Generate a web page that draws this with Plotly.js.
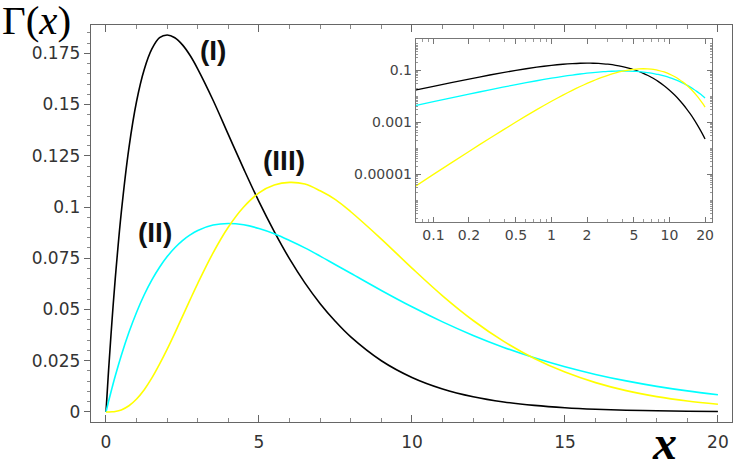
<!DOCTYPE html>
<html>
<head>
<meta charset="utf-8">
<script src="https://cdn.plot.ly/plotly-3.0.1.min.js"></script>
<style>
  html, body { margin: 0; padding: 0; background: #fff; }
  #chart { width: 733px; height: 461px; }
</style>
</head>
<body>
<div id="chart"></div>
<script>
// sample positions
const xs = [0, 0.07, 0.1, 0.2, 0.3, 0.5, 0.75, 1, 1.25, 1.5, 1.75, 2, 2.25, 2.5, 2.75, 3, 3.5, 4, 4.5, 5,
            5.5, 6, 6.5, 7, 7.5, 8, 9, 10, 11, 12, 13, 14, 15, 16, 17, 18, 19, 20];

// curve (I), black
const gammaI = [0, 0.01690, 0.02378, 0.04524, 0.06455, 0.09735, 0.1289, 0.1516, 0.1671, 0.1771,
                0.1826, 0.1839, 0.1826, 0.1791, 0.1739, 0.1673, 0.1521, 0.1353, 0.1186, 0.1026,
                0.08800, 0.07468, 0.06300, 0.05285, 0.04414, 0.03663, 0.02500, 0.01685, 0.01124,
                0.007436, 0.004886, 0.003192, 0.002074, 0.001342, 0.0008648, 0.0005553,
                0.0003556, 0.000227];

// curve (II), cyan
const gammaII = [0, 0.004299, 0.006096, 0.01189, 0.01740, 0.02758, 0.03886, 0.04868, 0.05720,
                 0.06443, 0.07061, 0.07582, 0.08015, 0.08364, 0.08641, 0.08857, 0.09119,
                 0.09197, 0.09131, 0.08953, 0.08694, 0.08367, 0.08006, 0.07603, 0.07182,
                 0.06767, 0.05929, 0.05130, 0.04395, 0.03734, 0.03150, 0.02642, 0.02205,
                 0.01832, 0.01516, 0.01250, 0.01027, 0.008422];

// curve (III), yellow
const gammaIII = [0, 0.00000345, 0.000009909, 0.00007540, 0.0002421, 0.001014, 0.003020,
                  0.006318, 0.01087, 0.01661, 0.02333, 0.03066, 0.03850, 0.04663, 0.05479,
                  0.06276, 0.07761, 0.09022, 0.1000, 0.1069, 0.1107, 0.1120, 0.1112, 0.1079,
                  0.1036, 0.09769, 0.08436, 0.07019, 0.05666, 0.04462, 0.03441, 0.02607,
                  0.01944, 0.01431, 0.01041, 0.007497, 0.005348, 0.003783];

const yTickVals = [0, 0.025, 0.05, 0.075, 0.1, 0.125, 0.15, 0.175];
const yTickText = ['0', '0.025', '0.05', '0.075', '0.1', '0.125', '0.15', '0.175'];
const xTickVals = [0, 5, 10, 15, 20];

const insetXVals = [0.1, 0.2, 0.5, 1, 2, 5, 10, 20];
const insetXText = ['0.1', '0.2', '0.5', '1', '2', '5', '10', '20'];
const insetYVals = [0.1, 0.001, 0.00001];
const insetYText = ['0.1', '0.001', '0.00001'];

const colors = ['#000000', '#00ffff', '#ffff00'];
const series = [gammaI, gammaII, gammaIII];

// log minor ticks
const minorX = [];
const minorY = [];
[0.01, 0.1, 1, 10].forEach(d => {
    for (let k = 2; k <= 9; k++) minorX.push(k * d);
});
for (let e = -7; e <= 0; e++) {
    for (let k = 1; k <= 9; k++) minorY.push(k * Math.pow(10, e));
}

const traces = [];
series.forEach((ys, i) => {
    traces.push({
        x: xs, y: ys, type: 'scatter', mode: 'lines',
        line: { color: colors[i], width: 1.6, shape: 'spline', smoothing: 1 },
        xaxis: 'x', yaxis: 'y', hoverinfo: 'skip'
    });
});
series.forEach((ys, i) => {
    traces.push({
        x: xs.slice(1), y: ys.slice(1), type: 'scatter', mode: 'lines',
        line: { color: colors[i], width: 1.3, shape: 'spline', smoothing: 0.6 },
        xaxis: 'x2', yaxis: 'y2', hoverinfo: 'skip'
    });
});

const tickFont = { family: 'DejaVu Sans, sans-serif', size: 17, color: '#333' };
const insetFont = { family: 'DejaVu Sans, sans-serif', size: 14, color: '#444' };
const labelFont = { family: 'Liberation Sans Narrow, Liberation Sans, Arial, sans-serif',
                    size: 28, color: '#111', weight: 'bold' };

const layout = {
    width: 733, height: 461,
    margin: { l: 91, r: 1, t: 25, b: 39 },
    paper_bgcolor: '#fff', plot_bgcolor: '#fff',
    showlegend: false, hovermode: false,
    xaxis: {
        domain: [0, 1], range: [-0.49, 20.46],
        tickmode: 'array', tickvals: xTickVals,
        ticks: 'inside', ticklen: 7, tickcolor: '#666',
        minor: { dtick: 1, tick0: 0, ticks: 'inside', ticklen: 4, tickcolor: '#888' },
        showline: true, linecolor: '#666', linewidth: 1.3, mirror: 'allticks',
        showgrid: false, zeroline: false, tickfont: tickFont,
        ticklabelstandoff: 4
    },
    yaxis: {
        domain: [0, 1], range: [-0.0049, 0.1888],
        tickmode: 'array', tickvals: yTickVals, ticktext: yTickText,
        ticks: 'outside', ticklen: 6, tickcolor: '#666',
        minor: { dtick: 0.005, tick0: 0, ticks: 'outside', ticklen: 3, tickcolor: '#888' },
        showline: true, linecolor: '#666', linewidth: 1.3, mirror: 'allticks',
        showgrid: false, zeroline: false, tickfont: tickFont
    },
    xaxis2: {
        domain: [0.507, 0.969], anchor: 'y2', type: 'log', range: [-1.148, 1.361],
        tickmode: 'array', tickvals: insetXVals, ticktext: insetXText,
        ticks: 'inside', ticklen: 5, tickcolor: '#777',
        minor: { tickmode: 'array', tickvals: minorX, ticks: 'inside', ticklen: 3, tickcolor: '#999' },
        showline: true, linecolor: '#777', linewidth: 1.2, mirror: 'allticks',
        showgrid: false, zeroline: false, tickfont: insetFont
    },
    yaxis2: {
        domain: [0.5045, 0.964], anchor: 'x2', type: 'log', range: [-6.82, 0.18],
        tickmode: 'array', tickvals: insetYVals, ticktext: insetYText,
        ticks: 'inside', ticklen: 5, tickcolor: '#777',
        minor: { tickmode: 'array', tickvals: minorY, ticks: 'inside', ticklen: 2, tickcolor: '#999' },
        showline: true, linecolor: '#777', linewidth: 1.2, mirror: 'allticks',
        showgrid: false, zeroline: false, tickfont: insetFont
    },
    annotations: [
        { text: '(I)', x: 3.5, y: 0.1766, xref: 'x', yref: 'y', showarrow: false, font: labelFont },
        { text: '(II)', x: 1.6, y: 0.0878, xref: 'x', yref: 'y', showarrow: false, font: labelFont },
        { text: '(III)', x: 5.82, y: 0.1229, xref: 'x', yref: 'y', showarrow: false, font: labelFont },
        { text: 'Γ(<i>x</i>)', x: -0.142, y: 1.0126, xref: 'paper', yref: 'paper',
          xanchor: 'left', yanchor: 'middle', showarrow: false,
          font: { family: 'Liberation Serif, Times New Roman, serif', size: 41, color: '#000' } },
        { text: '<b><i>x</i></b>', x: 0.894, y: -0.0504, xref: 'paper', yref: 'paper',
          xanchor: 'center', yanchor: 'middle', showarrow: false,
          font: { family: 'Liberation Serif, Times New Roman, serif', size: 48, color: '#000' } }
    ]
};

Plotly.newPlot('chart', traces, layout, { staticPlot: true, displayModeBar: false });
</script>
</body>
</html>
